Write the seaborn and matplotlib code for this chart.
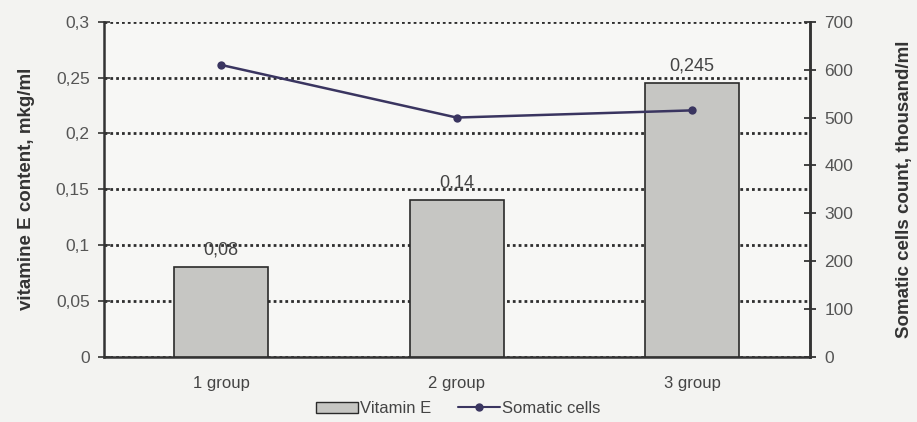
import numpy as np
import pandas as pd
import matplotlib
matplotlib.use("Agg")
import matplotlib.pyplot as plt
import seaborn as sns
from matplotlib.ticker import FuncFormatter, FixedLocator
from matplotlib.patches import Patch
from matplotlib.lines import Line2D

# Data
groups = ["1 group", "2 group", "3 group"]
vitamin_e = [0.08, 0.14, 0.245]
vitamin_labels = ["0,08", "0,14", "0,245"]
somatic_cells = [610, 500, 515]

sns.set_style("white")
plt.rcParams['font.family'] = ['Liberation Sans', 'DejaVu Sans']

df = pd.DataFrame({'group': groups, 'vit': vitamin_e, 'cells': somatic_cells})
df['pos'] = np.arange(len(df))

bar_col = '#c6c6c3'
line_col = '#3a3560'
ink = '#333333'

fig, ax = plt.subplots(figsize=(9.17, 4.22), dpi=100)
fig.patch.set_facecolor('#f3f3f1')
ax.set_facecolor('#f7f7f5')

# Bars
sns.barplot(data=df, x='group', y='vit', color=bar_col, width=0.40,
            edgecolor='#2a2a2a', linewidth=1.2, saturation=1, ax=ax, zorder=3)
for p, lab in zip(ax.patches, vitamin_labels):
    ax.text(p.get_x() + p.get_width() / 2, p.get_height() + 0.008, lab,
            ha='center', va='bottom', fontsize=13, color='#444444', zorder=5)

ax.set_xlim(-0.5, 2.5)
ax.set_ylim(0, 0.3)
ax.set_yticks(np.arange(0, 0.301, 0.05))
ax.yaxis.set_major_formatter(FuncFormatter(lambda v, _: ('%g' % round(v, 3)).replace('.', ',')))
ax.yaxis.grid(True, linestyle=(0, (1, 1.1)), color='#2e2e2e', linewidth=2)
ax.set_axisbelow(True)
ax.set_xlabel('')
ax.set_ylabel('vitamine E content, mkg/ml', fontsize=13.5, fontweight='bold', color=ink, labelpad=15)
ax.tick_params(axis='y', direction='inout', length=8, width=1.2, colors=ink, labelsize=12.5, pad=6)
ax.tick_params(axis='y', labelcolor='#555555')
ax.xaxis.set_minor_locator(FixedLocator([0.5, 1.5]))
ax.tick_params(axis='x', which='major', length=0, labelsize=12, labelcolor='#444444', pad=14)
ax.tick_params(axis='x', which='minor', direction='inout', length=10, width=1.5, color=ink)
for s in ['left', 'bottom', 'right']:
    ax.spines[s].set_color(ink)
    ax.spines[s].set_linewidth(1.8)
ax.spines['top'].set_visible(False)

# Line on secondary axis
ax2 = ax.twinx()
sns.lineplot(data=df, x='pos', y='cells', color=line_col, linewidth=1.8,
             marker='o', markersize=6, markeredgewidth=0, ax=ax2, zorder=6)
ax2.set_ylim(0, 700)
ax2.set_yticks(np.arange(0, 701, 100))
ax2.set_ylabel('Somatic cells count, thousand/ml', fontsize=13.5, fontweight='bold',
               color=ink, labelpad=31)
ax2.tick_params(axis='y', direction='inout', length=9, width=1.3, colors=ink, labelsize=12.5, pad=6)
ax2.tick_params(axis='y', labelcolor='#555555')
ax2.set_xlabel('')
for s in ['left', 'bottom', 'top']:
    ax2.spines[s].set_visible(False)
ax2.spines['right'].set_color(ink)
ax2.spines['right'].set_linewidth(1.8)

# Legend below chart
handles = [Patch(facecolor=bar_col, edgecolor='#2a2a2a', label='Vitamin E'),
           Line2D([], [], color=line_col, marker='o', markersize=5, label='Somatic cells')]
fig.legend(handles=handles, loc='lower center', ncol=2, frameon=False, fontsize=12,
           bbox_to_anchor=(0.5, -0.022), handlelength=2.5, handletextpad=0.15,
           columnspacing=1.6, labelcolor='#444444')

fig.subplots_adjust(left=0.113, right=0.883, top=0.948, bottom=0.155)
fig.savefig('out.png', dpi=100, facecolor=fig.get_facecolor())
